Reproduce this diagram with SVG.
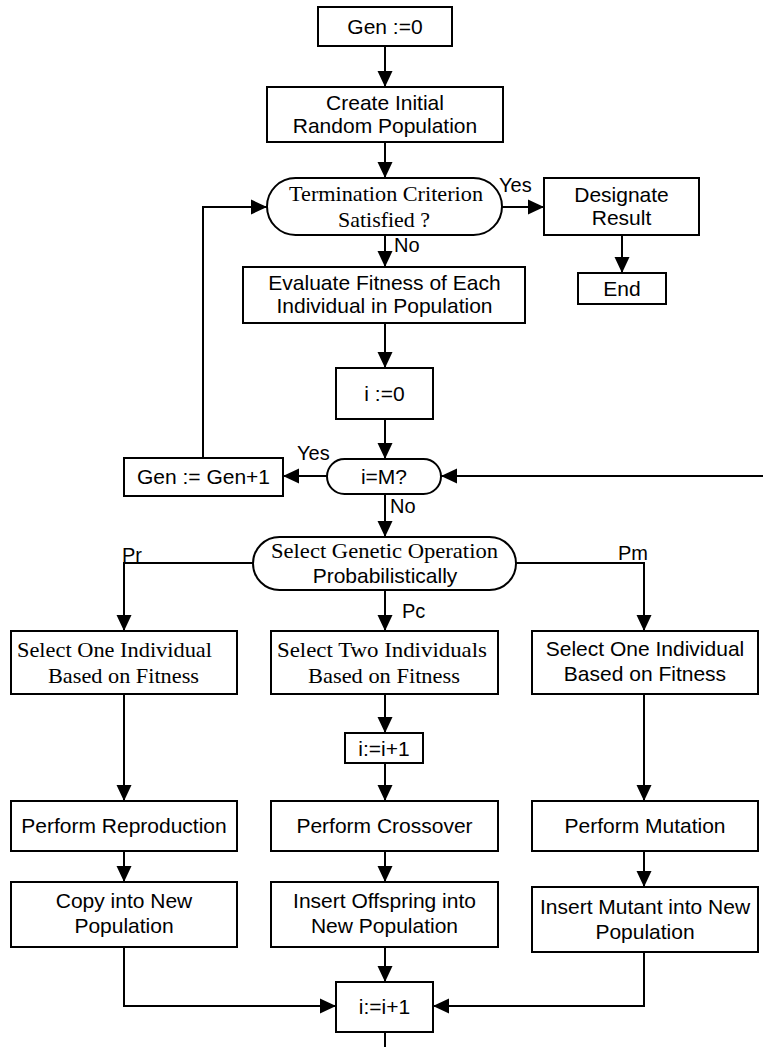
<svg xmlns="http://www.w3.org/2000/svg" width="763" height="1047" viewBox="0 0 763 1047">
  <style>
    .box { fill: #ffffff; stroke: #000000; stroke-width: 2; }
    .wire { fill: none; stroke: #000000; stroke-width: 2; }
    .sans { font-family: "Liberation Sans", Arial, sans-serif; font-size: 21px; fill: #000000; }
    .serif { font-family: "Liberation Serif", "Times New Roman", serif; font-size: 22px; fill: #000000; }
    .lbl { font-family: "Liberation Sans", Arial, sans-serif; font-size: 20px; fill: #000000; }
    .mid { text-anchor: middle; }
  </style>
  <defs>
    <marker id="arrow" viewBox="0 0 16 16" refX="16" refY="8" markerWidth="16" markerHeight="16" markerUnits="userSpaceOnUse" orient="auto">
      <path d="M0,0.5 L16,8 L0,15.5 z" fill="#000000"/>
    </marker>
  </defs>

  <rect width="763" height="1047" fill="#ffffff"/>

  <!-- connectors -->
  <g id="connectors">
    <path class="wire" d="M385,46 V87" marker-end="url(#arrow)"/>
    <path class="wire" d="M385,142 V178" marker-end="url(#arrow)"/>
    <path class="wire" d="M502,207 H544" marker-end="url(#arrow)"/>
    <path class="wire" d="M622,235 V273" marker-end="url(#arrow)"/>
    <path class="wire" d="M385,235 V267" marker-end="url(#arrow)"/>
    <path class="wire" d="M385,323 V368" marker-end="url(#arrow)"/>
    <path class="wire" d="M385,419 V459" marker-end="url(#arrow)"/>
    <path class="wire" d="M327,476 H283" marker-end="url(#arrow)"/>
    <path class="wire" d="M203,458 V207 H267" marker-end="url(#arrow)"/>
    <path class="wire" d="M763,476 H441" marker-end="url(#arrow)"/>
    <path class="wire" d="M385,494 V537" marker-end="url(#arrow)"/>
    <path class="wire" d="M253,563 H124 V631" marker-end="url(#arrow)"/>
    <path class="wire" d="M516,563 H644 V631" marker-end="url(#arrow)"/>
    <path class="wire" d="M385,590 V631" marker-end="url(#arrow)"/>
    <path class="wire" d="M124,694 V801" marker-end="url(#arrow)"/>
    <path class="wire" d="M385,694 V733" marker-end="url(#arrow)"/>
    <path class="wire" d="M385,763 V801" marker-end="url(#arrow)"/>
    <path class="wire" d="M644,694 V801" marker-end="url(#arrow)"/>
    <path class="wire" d="M124,851 V882" marker-end="url(#arrow)"/>
    <path class="wire" d="M385,851 V882" marker-end="url(#arrow)"/>
    <path class="wire" d="M644,851 V887" marker-end="url(#arrow)"/>
    <path class="wire" d="M124,947 V1006 H336" marker-end="url(#arrow)"/>
    <path class="wire" d="M385,947 V982" marker-end="url(#arrow)"/>
    <path class="wire" d="M644,952 V1006 H433" marker-end="url(#arrow)"/>
    <path class="wire" d="M385,1032 V1047"/>

    <text class="lbl" x="499" y="192">Yes</text>
    <text class="lbl" x="394" y="252">No</text>
    <text class="lbl" x="297" y="460">Yes</text>
    <text class="lbl" x="390" y="513">No</text>
    <text class="lbl" x="122" y="562">Pr</text>
    <text class="lbl" x="618" y="560">Pm</text>
    <text class="lbl" x="402" y="618">Pc</text>
  </g>

  <!-- nodes -->
  <g id="gen-init">
    <rect class="box" x="318" y="7" width="134" height="39"/>
    <text class="sans mid" x="385" y="34">Gen :=0</text>
  </g>

  <g id="create-population">
    <rect class="box" x="267" y="87" width="236" height="55"/>
    <text class="sans mid" x="385" y="110">Create Initial</text>
    <text class="sans mid" x="385" y="133">Random Population</text>
  </g>

  <g id="termination">
    <rect class="box" x="267" y="178" width="235" height="57" rx="28.5" ry="28.5"/>
    <text class="serif mid" x="386" y="201" textLength="194" lengthAdjust="spacingAndGlyphs">Termination Criterion</text>
    <text class="serif mid" x="384" y="227" textLength="92" lengthAdjust="spacingAndGlyphs">Satisfied ?</text>
  </g>

  <g id="designate-result">
    <rect class="box" x="544" y="178" width="155" height="57"/>
    <text class="sans mid" x="621.5" y="202">Designate</text>
    <text class="sans mid" x="621.5" y="225">Result</text>
  </g>

  <g id="end">
    <rect class="box" x="578" y="273" width="88" height="31"/>
    <text class="sans mid" x="622" y="296">End</text>
  </g>

  <g id="evaluate-fitness">
    <rect class="box" x="243" y="267" width="282" height="56"/>
    <text class="sans mid" x="384.5" y="290">Evaluate Fitness of Each</text>
    <text class="sans mid" x="384.5" y="313">Individual in Population</text>
  </g>

  <g id="i-init">
    <rect class="box" x="336" y="368" width="97" height="51"/>
    <text class="sans mid" x="384.5" y="401">i :=0</text>
  </g>

  <g id="i-equals-m">
    <rect class="box" x="327" y="459" width="114" height="35" rx="17.5" ry="17.5"/>
    <text class="sans mid" x="384" y="484">i=M?</text>
  </g>

  <g id="gen-increment">
    <rect class="box" x="124" y="458" width="159" height="38"/>
    <text class="sans mid" x="203.5" y="484">Gen := Gen+1</text>
  </g>

  <g id="select-operation">
    <rect class="box" x="253" y="537" width="263" height="53" rx="26.5" ry="26.5"/>
    <text class="serif mid" x="384.5" y="558" textLength="227" lengthAdjust="spacingAndGlyphs">Select Genetic Operation</text>
    <text class="sans mid" x="385" y="583">Probabilistically</text>
  </g>

  <g id="select-one-left">
    <rect class="box" x="11" y="631" width="226" height="63"/>
    <text class="serif mid" x="114.5" y="657" textLength="195" lengthAdjust="spacingAndGlyphs">Select One Individual</text>
    <text class="serif mid" x="123.5" y="683" textLength="151" lengthAdjust="spacingAndGlyphs">Based on Fitness</text>
  </g>

  <g id="select-two">
    <rect class="box" x="271" y="631" width="227" height="63"/>
    <text class="serif mid" x="382" y="657" textLength="210" lengthAdjust="spacingAndGlyphs">Select Two Individuals</text>
    <text class="serif mid" x="384" y="683" textLength="152" lengthAdjust="spacingAndGlyphs">Based on Fitness</text>
  </g>

  <g id="select-one-right">
    <rect class="box" x="532" y="631" width="226" height="63"/>
    <text class="sans mid" x="645" y="656">Select One Individual</text>
    <text class="sans mid" x="645" y="681">Based on Fitness</text>
  </g>

  <g id="i-increment-crossover">
    <rect class="box" x="345" y="733" width="78" height="30"/>
    <text class="sans mid" x="384" y="756">i:=i+1</text>
  </g>

  <g id="perform-reproduction">
    <rect class="box" x="11" y="801" width="226" height="50"/>
    <text class="sans mid" x="124" y="833">Perform Reproduction</text>
  </g>

  <g id="perform-crossover">
    <rect class="box" x="271" y="801" width="227" height="50"/>
    <text class="sans mid" x="384.5" y="833">Perform Crossover</text>
  </g>

  <g id="perform-mutation">
    <rect class="box" x="532" y="801" width="226" height="50"/>
    <text class="sans mid" x="645" y="833">Perform Mutation</text>
  </g>

  <g id="copy-new-population">
    <rect class="box" x="11" y="882" width="226" height="65"/>
    <text class="sans mid" x="124" y="908">Copy into New</text>
    <text class="sans mid" x="124" y="933">Population</text>
  </g>

  <g id="insert-offspring">
    <rect class="box" x="271" y="882" width="227" height="65"/>
    <text class="sans mid" x="384.5" y="908">Insert Offspring into</text>
    <text class="sans mid" x="384.5" y="933">New Population</text>
  </g>

  <g id="insert-mutant">
    <rect class="box" x="532" y="887" width="226" height="65"/>
    <text class="sans mid" x="645" y="914">Insert Mutant into New</text>
    <text class="sans mid" x="645" y="939">Population</text>
  </g>

  <g id="i-increment">
    <rect class="box" x="336" y="982" width="97" height="50"/>
    <text class="sans mid" x="384.5" y="1014">i:=i+1</text>
  </g>
</svg>
